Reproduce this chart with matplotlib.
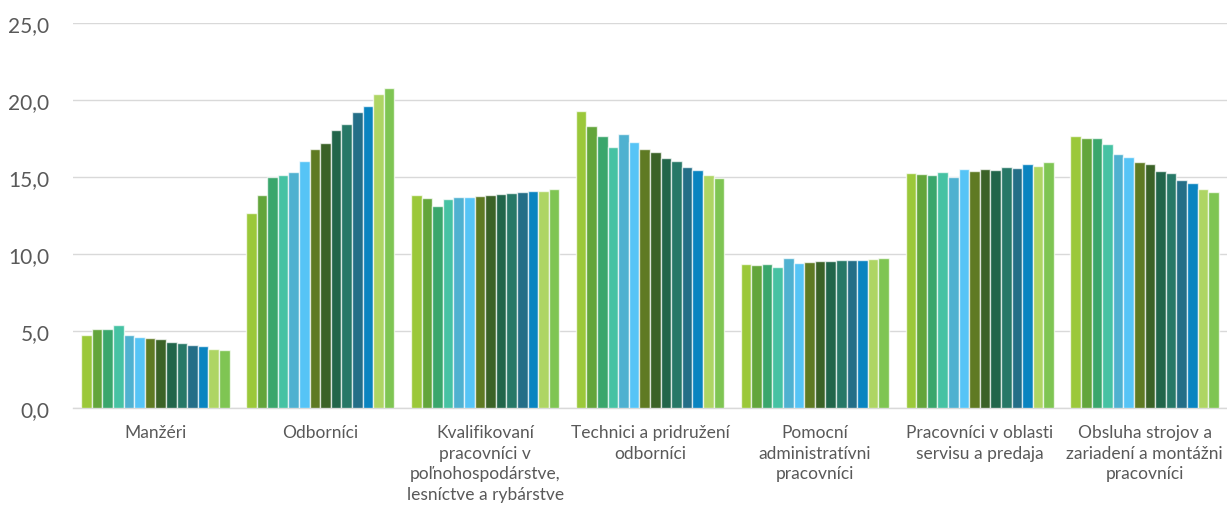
import numpy as np
import matplotlib
matplotlib.use("Agg")
import matplotlib.pyplot as plt

plt.rcParams['font.family'] = ['Lato', 'DejaVu Sans']

categories = ["Manžéri", "Odborníci",
              "Kvalifikovaní\npracovníci v\npoľnohospodárstve,\nlesníctve a rybárstve",
              "Technici a pridružení\nodborníci",
              "Pomocní\nadministratívni\npracovníci",
              "Pracovníci v oblasti\nservisu a predaja",
              "Obsluha strojov a\nzariadení a montážni\npracovníci"]

manazeri = [4.73, 5.12, 5.16, 5.42, 4.77, 4.62, 4.54, 4.47, 4.32, 4.23, 4.08, 4.02, 3.84, 3.76]
odbornici = [12.65, 13.82, 15.00, 15.11, 15.35, 16.06, 16.84, 17.23, 18.03, 18.42, 19.22, 19.61, 20.41, 20.78]
kvalifikovani = [13.81, 13.62, 13.10, 13.57, 13.70, 13.74, 13.79, 13.81, 13.90, 13.94, 14.03, 14.07, 14.13, 14.20]
technici = [19.29, 18.34, 17.69, 16.98, 17.78, 17.26, 16.85, 16.65, 16.26, 16.07, 15.68, 15.49, 15.12, 14.95]
pomocni = [9.39, 9.29, 9.35, 9.20, 9.72, 9.42, 9.52, 9.55, 9.55, 9.59, 9.61, 9.63, 9.68, 9.72]
servis = [15.26, 15.19, 15.13, 15.34, 15.04, 15.52, 15.39, 15.54, 15.45, 15.67, 15.58, 15.84, 15.73, 15.95]
obsluha = [17.69, 17.52, 17.54, 17.17, 16.53, 16.32, 16.01, 15.82, 15.41, 15.24, 14.83, 14.63, 14.24, 14.05]

colors = ["#9bc83a", "#63a53b", "#3aa66c", "#46c2a3", "#4fb1d0", "#56c4f6", "#5f7a23",
          "#3b6227", "#21654a", "#277867", "#246e87", "#0a84c0", "#aed564", "#7fc553"]

yticks = [0, 5, 10, 15, 20, 25]
ytick_labels = ["0,0", "5,0", "10,0", "15,0", "20,0", "25,0"]

values = np.array([manazeri, odbornici, kvalifikovani, technici, pomocni, servis, obsluha])
n_cat, n_ser = values.shape

fig = plt.figure(figsize=(12.27, 5.10), dpi=100)
ax = fig.add_axes([73 / 1227, 1 - 409.3 / 510, 1154 / 1227, (409.3 - 24) / 510])

x = np.arange(n_cat)
group = 0.9
slot = group / n_ser
for i in range(n_ser):
    ax.bar(x - group / 2 + slot * (i + 0.5), values[:, i], width=slot,
           color=colors[i], edgecolor=(1, 1, 1, 0.7), linewidth=1.0, zorder=3)

ax.set_xlim(-0.5, n_cat - 0.5)
ax.set_ylim(0, 25)
ax.set_yticks(yticks)
ax.set_yticklabels(ytick_labels)
ax.set_xticks(x)
ax.set_xticklabels(categories, fontsize=12.5, color="#595959", linespacing=1.38, va="top")
ax.tick_params(axis="y", length=0, pad=17, labelsize=15, labelcolor="#595959")
ax.tick_params(axis="x", length=0, pad=11)
ax.grid(axis="y", color="#d9d9d9", linewidth=1.0, zorder=0)
for side in ["top", "right", "left"]:
    ax.spines[side].set_visible(False)
ax.spines["bottom"].set_color("#d9d9d9")
ax.spines["bottom"].set_linewidth(1.0)

fig.savefig("out.png", dpi=100)
